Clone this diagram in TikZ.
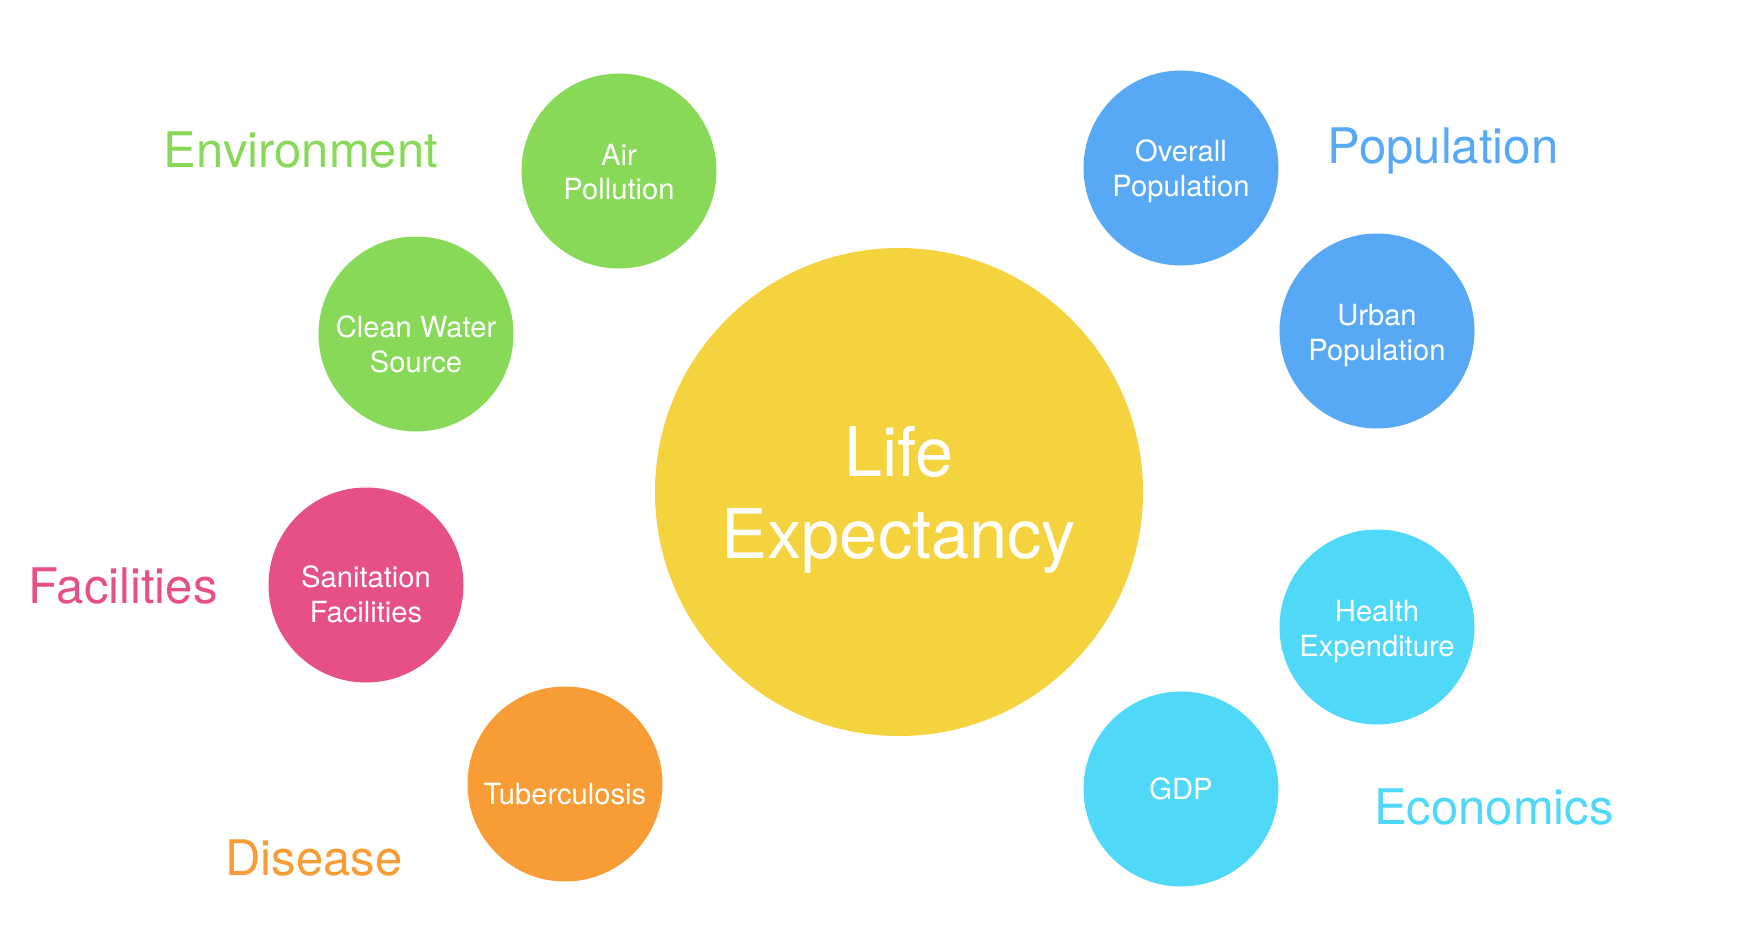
\documentclass[tikz,border=0pt]{standalone}
\usepackage{fontspec}
\setmainfont{TeX Gyre Heros}
\usepackage{tikz}
\usetikzlibrary{positioning}
\definecolor{lyellow}{HTML}{F4D33F}
\definecolor{lgreen}{HTML}{87D957}
\definecolor{lblue}{HTML}{58A9F5}
\definecolor{lpink}{HTML}{E75087}
\definecolor{lorange}{HTML}{F89D35}
\definecolor{lcyan}{HTML}{50D8F8}

\begin{document}
\begin{tikzpicture}[
		x=0.02cm, y=-0.02cm,
		% styles
		hub/.style={circle, fill=lyellow, inner sep=0pt, minimum size=488*0.02cm},
		bubble/.style={circle, fill=#1, inner sep=0pt, minimum size=195*0.02cm},
		hubtext/.style={text=white, inner sep=0pt, align=center, font=\fontsize{39}{46.5}\selectfont},
		bubtext/.style={text=white, inner sep=0pt, align=center, font=\fontsize{16.6}{19.8}\selectfont},
		group/.style={text=#1, inner sep=0pt, font=\fontsize{27.9}{33}\selectfont}
		]
		
		% page size
		\useasboundingbox (0,0) rectangle (1764,936);
		
		% ==========================================
		% Center
		% ==========================================
		\node[hub, label={[hubtext, yshift=-0.16cm]center:Life\\Expectancy}] (life) at (899,492) {};
		
		% ==========================================
		% Factors (left)
		% ==========================================
		\node[bubble=lgreen, label={[bubtext, yshift=-0.02cm]center:Air\\Pollution}] (air) at (619,171) {};
		\node[bubble=lgreen, label={[bubtext, yshift=-0.21cm]center:Clean Water\\Source}] (water) at (416,334) {};
		\node[bubble=lpink, label={[bubtext, yshift=-0.18cm]center:Sanitation\\Facilities}] (sanit) at (366,585) {};
		\node[bubble=lorange, label={[bubtext, yshift=-0.2cm]center:Tuberculosis}] (tb) at (565,784) {};
		
		% ==========================================
		% Factors (right)
		% ==========================================
		\node[bubble=lblue, label={[bubtext, yshift=-0.07cm]center:Overall\\Population}] (overall) at (1181,168) {};
		\node[bubble=lblue, label={[bubtext, yshift=-0.09cm]center:Urban\\Population}] (urban) at (1377,331) {};
		\node[bubble=lcyan, label={[bubtext, yshift=-0.09cm]center:Health\\Expenditure}] (health) at (1377,627) {};
		\node[bubble=lcyan, label={[bubtext]center:GDP}] (gdp) at (1181,789) {};
		
		% ==========================================
		% Group labels
		% ==========================================
		\node[group=lgreen] (env) at (301,150) {Environment};
		\node[group=lblue] (pop) at (1443,151) {Population};
		\node[group=lpink] (fac) at (123,586) {Facilities};
		\node[group=lorange] (dis) at (314,858) {Disease};
		\node[group=lcyan] (eco) at (1494,807) {Economics};
		
	\end{tikzpicture}
\end{document}
